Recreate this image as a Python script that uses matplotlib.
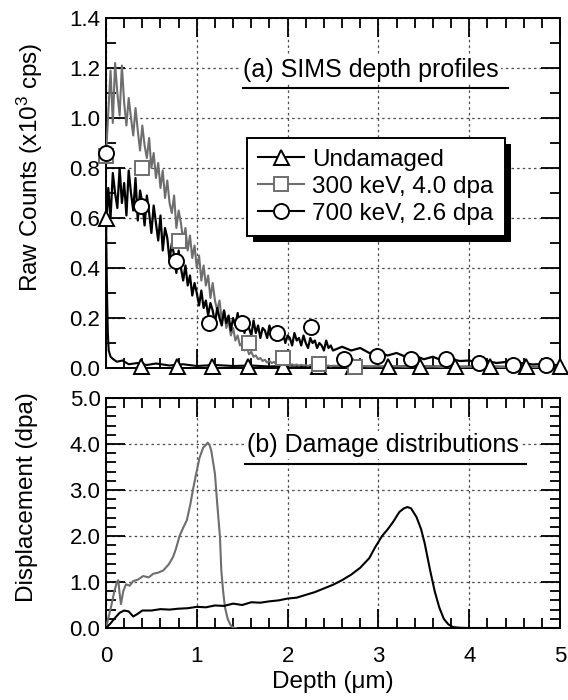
import numpy as np
import matplotlib
matplotlib.use("Agg")
import matplotlib.pyplot as plt
from matplotlib.lines import Line2D
from matplotlib.patches import Rectangle
from matplotlib.transforms import IdentityTransform
from matplotlib.ticker import MultipleLocator, FormatStrFormatter

plt.rcParams['font.family'] = ['Liberation Sans', 'DejaVu Sans']
plt.rcParams['mathtext.default'] = 'regular'

GRAY = '#6e6e6e'

# ---- (a) SIMS depth profiles (x10^3 cps) ----
# fine part 0 - 2.5 um every 0.025 um, tail 2.6 - 5.0 um every 0.1 um
sims_depth = np.concatenate([np.round(np.arange(101) * 0.025, 3),
                             np.round(2.6 + np.arange(25) * 0.1, 2)])

sims_700 = [0.55, 0.72, 0.60, 0.78, 0.70, 0.64, 0.80, 0.66, 0.74, 0.61,
            0.79, 0.70, 0.63, 0.76, 0.59, 0.71, 0.66, 0.57, 0.69, 0.62,
            0.54, 0.65, 0.58, 0.51, 0.61, 0.47, 0.56, 0.52, 0.43, 0.50,
            0.45, 0.38, 0.47, 0.40, 0.35, 0.41, 0.33, 0.37, 0.29, 0.34,
            0.30, 0.25, 0.31, 0.24, 0.27, 0.21, 0.26, 0.23, 0.18, 0.24,
            0.20, 0.17, 0.23, 0.18, 0.21, 0.15, 0.20, 0.17, 0.22, 0.15,
            0.19, 0.14, 0.18, 0.16, 0.13, 0.19, 0.14, 0.17, 0.12, 0.16,
            0.15, 0.12, 0.17, 0.13, 0.15, 0.11, 0.16, 0.12, 0.14, 0.10,
            0.13, 0.12, 0.09, 0.14, 0.11, 0.12, 0.09, 0.13, 0.10, 0.08,
            0.12, 0.10, 0.11, 0.08, 0.10, 0.09, 0.07, 0.11, 0.08, 0.09,
            0.07,
            0.085, 0.07, 0.08, 0.06, 0.065, 0.05, 0.06, 0.045, 0.05, 0.035,
            0.045, 0.03, 0.035, 0.028, 0.03, 0.022, 0.028, 0.02, 0.024, 0.016,
            0.02, 0.014, 0.016, 0.012, 0.012]

sims_300 = [0.85, 1.02, 1.19, 0.98, 1.22, 1.10, 1.01, 1.21, 1.06, 0.97,
            1.08, 1.00, 0.93, 1.04, 0.95, 0.87, 0.97, 0.89, 0.84, 0.92,
            0.80, 0.86, 0.76, 0.82, 0.72, 0.79, 0.68, 0.75, 0.66, 0.62,
            0.69, 0.56, 0.63, 0.58, 0.51, 0.56, 0.47, 0.53, 0.44, 0.49,
            0.40, 0.45, 0.35, 0.41, 0.33, 0.37, 0.28, 0.34, 0.27, 0.23,
            0.27, 0.19, 0.23, 0.16, 0.19, 0.13, 0.16, 0.11, 0.13, 0.09,
            0.10, 0.07, 0.085, 0.055, 0.065, 0.045, 0.05, 0.035, 0.04, 0.028,
            0.033, 0.022, 0.028, 0.02, 0.024, 0.016, 0.021, 0.014, 0.018, 0.012,
            0.016, 0.011, 0.015, 0.01, 0.014, 0.009, 0.013, 0.01, 0.012, 0.008,
            0.012, 0.009, 0.011, 0.007, 0.011, 0.008, 0.01, 0.007, 0.01, 0.006,
            0.009,
            0.008, 0.006, 0.008, 0.006, 0.007, 0.005, 0.007, 0.005, 0.006, 0.005,
            0.006, 0.004, 0.005, 0.004, 0.005, 0.004, 0.005, 0.004, 0.004, 0.003,
            0.004, 0.003, 0.004, 0.003, 0.003]

undam_depth = [0.0, 0.01, 0.02, 0.03, 0.05, 0.08, 0.12, 0.18, 0.25, 0.35,
               0.45, 0.55, 0.7, 0.85, 1.0, 1.2, 1.4, 1.6, 1.8, 2.0,
               2.3, 2.6, 3.0, 3.4, 3.8, 4.2, 4.6, 5.0]
undam_cnt = [0.60, 0.32, 0.14, 0.07, 0.045, 0.035, 0.025, 0.03, 0.015, 0.02,
             0.012, 0.018, 0.01, 0.015, 0.008, 0.012, 0.008, 0.01, 0.006, 0.01,
             0.006, 0.008, 0.005, 0.007, 0.005, 0.006, 0.004, 0.005]

# symbols
tri_x = [0.0, 0.39, 0.78, 1.17, 1.56, 1.95, 2.33, 2.72, 3.11, 3.46, 3.84, 4.23, 4.63, 5.0]
tri_y = [0.60, 0.01, 0.01, 0.01, 0.01, 0.01, 0.01, 0.01, 0.01, 0.01, 0.01, 0.01, 0.01, 0.01]
sq_x = [0.0, 0.4, 0.8, 1.58, 1.95, 2.35, 2.74]
sq_y = [0.85, 0.80, 0.51, 0.10, 0.04, 0.015, 0.005]
circ_x = [0.0, 0.385, 0.77, 1.13, 1.5, 1.88, 2.26, 2.62, 2.99, 3.36, 3.74, 4.11, 4.48, 4.85]
circ_y = [0.86, 0.65, 0.43, 0.18, 0.18, 0.14, 0.165, 0.035, 0.05, 0.035, 0.035, 0.02, 0.013, 0.012]

# ---- (b) damage distributions (dpa) ----
dmg300_depth = [0.0, 0.03, 0.06, 0.09, 0.12, 0.135, 0.15, 0.165, 0.19, 0.22,
                0.26, 0.3, 0.35, 0.41, 0.47, 0.52, 0.57, 0.63, 0.69, 0.74,
                0.77, 0.81, 0.85, 0.89, 0.93, 0.96, 1.0, 1.03, 1.07, 1.1,
                1.12, 1.14, 1.16, 1.18, 1.2, 1.225, 1.255, 1.27, 1.29, 1.31,
                1.34, 1.37, 1.4, 1.43]
dmg300 = [0.0, 0.25, 0.5, 0.78, 1.0, 1.04, 0.75, 0.52, 0.8, 0.95,
          0.92, 1.02, 1.05, 1.13, 1.1, 1.18, 1.2, 1.25, 1.38, 1.55,
          1.72, 2.0, 2.18, 2.34, 2.7, 3.03, 3.42, 3.7, 3.92, 3.98,
          4.03, 3.98, 3.85, 3.6, 3.35, 2.7, 1.98, 1.25, 0.8, 0.45,
          0.2, 0.07, 0.01, 0.0]

dmg700_depth = [0.0, 0.05, 0.1, 0.15, 0.2, 0.25, 0.3, 0.35, 0.4,
                0.5, 0.6, 0.7, 0.8, 0.9, 1.0, 1.1, 1.2, 1.3, 1.4,
                1.5, 1.6, 1.7, 1.8, 1.9, 2.0, 2.1, 2.2, 2.3, 2.4,
                2.5, 2.6, 2.7, 2.8, 2.9,
                2.96, 3.04, 3.1, 3.16, 3.23, 3.28, 3.32, 3.36, 3.42, 3.47,
                3.51, 3.57, 3.62, 3.67, 3.72, 3.77, 3.82, 3.9, 4.0, 5.0]
dmg700 = [0.0, 0.1, 0.22, 0.33, 0.38, 0.36, 0.25, 0.31, 0.38,
          0.38, 0.41, 0.4, 0.42, 0.43, 0.46, 0.45, 0.49, 0.48, 0.53,
          0.5, 0.56, 0.55, 0.58, 0.6, 0.64, 0.66, 0.72, 0.78, 0.86,
          0.94, 1.04, 1.16, 1.31, 1.52,
          1.74, 2.0, 2.14, 2.3, 2.52, 2.6, 2.63, 2.6, 2.41, 2.15,
          1.84, 1.25, 0.8, 0.45, 0.2, 0.08, 0.02, 0.005, 0.0, 0.0]

W, H = 568, 700
fig = plt.figure(figsize=(W / 100, H / 100), dpi=100)
ax1 = fig.add_axes([106 / W, 1 - 368 / H, 454 / W, 350 / H])
ax2 = fig.add_axes([106 / W, 1 - 628 / H, 454 / W, 230 / H])


def style(ax, ymaj, ymin, xlabels):
    ax.set_xlim(0, 5)
    ax.xaxis.set_major_locator(MultipleLocator(1))
    ax.xaxis.set_minor_locator(MultipleLocator(0.2))
    ax.yaxis.set_major_locator(MultipleLocator(ymaj))
    ax.yaxis.set_minor_locator(MultipleLocator(ymin))
    ax.yaxis.set_major_formatter(FormatStrFormatter('%.1f'))
    ax.tick_params(which='both', direction='in', top=True, right=True,
                   width=1.3, labelsize=16, labelbottom=xlabels)
    ax.tick_params(which='major', length=14)
    ax.tick_params(which='minor', length=7.5)
    ax.tick_params(axis='y', pad=4)
    ax.tick_params(axis='x', pad=13)
    for s in ax.spines.values():
        s.set_linewidth(1.4)
    ax.grid(True, which='major', ls=(0, (2, 2.5)), color='0.3', lw=0.9)


style(ax1, 0.2, 0.1, False)
ax1.set_ylim(0, 1.4)
style(ax2, 1.0, 0.2, True)
ax2.set_ylim(0, 5)

ms = 10.8
ax1.plot(undam_depth, undam_cnt, color='k', lw=1.5, zorder=3)
ax1.plot(sims_depth, sims_300, color=GRAY, lw=1.5, zorder=3)
ax1.plot(sims_depth, sims_700, color='k', lw=1.6, zorder=3.5)
ax1.plot(tri_x, tri_y, ls='none', marker='^', ms=ms, mfc='white', mec='k',
         mew=1.4, clip_on=False, zorder=5)
ax1.plot(sq_x, sq_y, ls='none', marker='s', ms=ms * 0.95, mfc='white', mec=GRAY,
         mew=1.4, clip_on=False, zorder=5)
ax1.plot(circ_x, circ_y, ls='none', marker='o', ms=ms, mfc='white', mec='k',
         mew=1.4, clip_on=False, zorder=6)

handles = [Line2D([], [], color='k', lw=1.5, marker='^', ms=ms, mfc='white', mec='k', mew=1.4),
           Line2D([], [], color=GRAY, lw=1.5, marker='s', ms=ms * 0.95, mfc='white', mec=GRAY, mew=1.4),
           Line2D([], [], color='k', lw=1.5, marker='o', ms=ms, mfc='white', mec='k', mew=1.4)]
labels = ['Undamaged', '300 keV, 4.0 dpa', '700 keV, 2.6 dpa']
leg = ax1.legend(handles, labels, loc='upper left', bbox_to_anchor=(0.31, 0.657),
                 borderaxespad=0, fontsize=17.5, fancybox=False, framealpha=1,
                 edgecolor='k', handlelength=1.9, handletextpad=0.35,
                 labelspacing=0.2, borderpad=0.45)
leg.get_frame().set_linewidth(1.4)
leg.set_zorder(10)

ax1.text(0.302, 0.851, '(a) SIMS depth profiles', transform=ax1.transAxes,
         fontsize=18, va='center', ha='left',
         bbox=dict(fc='white', ec='none', pad=1.5), zorder=7)
ax1.plot([0.302, 0.885], [0.80, 0.80], transform=ax1.transAxes, color='k', lw=1.5,
         zorder=7)

ax2.plot(dmg300_depth, dmg300, color=GRAY, lw=1.5, zorder=3)
ax2.plot(dmg700_depth, dmg700, color='k', lw=1.5, zorder=3)
ax2.text(0.31, 0.796, '(b) Damage distributions', transform=ax2.transAxes,
         fontsize=18, va='center', ha='left',
         bbox=dict(fc='white', ec='none', pad=1.5), zorder=7)
ax2.plot([0.306, 0.925], [0.713, 0.713], transform=ax2.transAxes, color='k', lw=1.5,
         zorder=7)

ax1.set_ylabel('Raw Counts (x10$^{3}$ cps)', fontsize=17.5)
ax2.set_ylabel('Displacement (dpa)', fontsize=17.5)
ax2.set_xlabel('Depth (\u03bcm)', fontsize=17.5, labelpad=3)
ax1.yaxis.set_label_coords(-0.135, 0.574)
ax2.yaxis.set_label_coords(-0.15, 0.57)

# drop shadow behind legend
fig.canvas.draw()
bb = leg.get_window_extent()
shadow = Rectangle((bb.x0 + 6, bb.y0 - 6), bb.width, bb.height, transform=IdentityTransform(),
                   fc='k', ec='none', zorder=9.9, clip_on=False)
ax1.add_artist(shadow)

fig.savefig('out.png', dpi=100)
